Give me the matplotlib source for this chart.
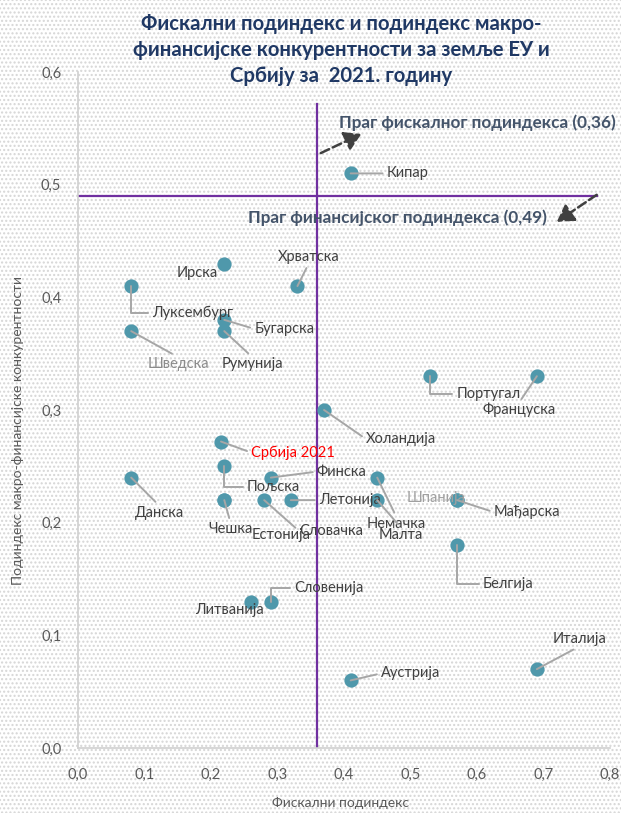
import matplotlib.pyplot as plt
from matplotlib.patches import Rectangle

# Подаци (фискални подиндекс, подиндекс макро-финансијске конкурентности)
countries = ['Кипар', 'Ирска', 'Хрватска', 'Луксембург', 'Шведска', 'Бугарска',
             'Румунија', 'Португал', 'Француска', 'Холандија', 'Србија 2021',
             'Финска', 'Пољска', 'Данска', 'Летонија', 'Чешка', 'Естонија',
             'Словачка', 'Шпанија', 'Мађарска', 'Немачка', 'Малта', 'Белгија',
             'Словенија', 'Литванија', 'Аустрија', 'Италија']
fiscal = [0.41, 0.22, 0.33, 0.08, 0.08, 0.22, 0.22, 0.53, 0.69, 0.37, 0.215,
          0.29, 0.22, 0.08, 0.32, 0.22, 0.22, 0.28, 0.57, 0.57, 0.45, 0.45,
          0.57, 0.29, 0.26, 0.41, 0.69]
financial = [0.51, 0.43, 0.41, 0.41, 0.37, 0.38, 0.37, 0.33, 0.33, 0.30, 0.272,
             0.24, 0.25, 0.24, 0.22, 0.22, 0.22, 0.22, 0.22, 0.22, 0.24, 0.22,
             0.18, 0.13, 0.13, 0.06, 0.07]
fiscal_threshold = 0.36
financial_threshold = 0.49

# положај етикета: (dx, dy у пикселима, relpos, тип линије)
label_pos = {
    'Кипар': (57, 0, (0, 0.5), 's'),
    'Ирска': (-27, -9, None, None),
    'Хрватска': (11, 29, (0.5, 0), 's'),
    'Луксембург': (61, -27, (0, 0.5), 'a'),
    'Шведска': (47, -33, (0.5, 1), 's'),
    'Бугарска': (60, -9, (0, 0.5), 's'),
    'Румунија': (28, -33, (0.5, 1), 's'),
    'Португал': (58, -18, (0, 0.5), 'a'),
    'Француска': (-18, -34, (0.5, 1), 's'),
    'Холандија': (77, -29, (0, 0.5), 's'),
    'Србија 2021': (72, -11, (0, 0.5), 's'),
    'Финска': (71, 6, (0, 0.5), 's'),
    'Пољска': (49, -21, (0, 0.5), 'a'),
    'Данска': (28, -35, (0.5, 1), 's'),
    'Летонија': (59, 0, (0, 0.5), 's'),
    'Чешка': (6, -29, (0.5, 1), 's'),
    'Естонија': (57, -35, None, None),
    'Словачка': (67, -31, (0, 0.5), 's'),
    'Шпанија': (-21, 2, None, None),
    'Мађарска': (70, -12, (0, 0.5), 's'),
    'Немачка': (19, -46, (0.5, 1), 's'),
    'Малта': (24, -35, (0.5, 1), 's'),
    'Белгија': (51, -39, (0, 0.5), 'a'),
    'Словенија': (58, 14, (0, 0.5), 'a'),
    'Литванија': (-21, -8, None, None),
    'Аустрија': (60, 7, (0, 0.5), 's'),
    'Италија': (43, 30, (0.5, 0), 's'),
}
label_colors = {'Шведска': '#8c8c8c', 'Шпанија': '#a0a0a0', 'Србија 2021': '#ff0000'}

plt.rcParams['font.family'] = ['Lato', 'DejaVu Sans']

fig = plt.figure(figsize=(6.21, 8.13), dpi=100)
fig.patches.append(Rectangle((0, 0), 1, 1, transform=fig.transFigure, facecolor='white',
                             edgecolor='#d6d6d6', hatch='....', linewidth=0, zorder=-10))
ax = fig.add_axes([78 / 621, 1 - 748 / 813, (610 - 78) / 621, (748 - 72) / 813])
ax.patch.set_alpha(0)

ax.set_xlim(0, 0.8)
ax.set_ylim(0, 0.6)
ax.set_xticks([i / 10 for i in range(9)])
ax.set_yticks([i / 10 for i in range(7)])
fmt = lambda v: f'{v:.1f}'.replace('.', ',')
ax.set_xticklabels([fmt(i / 10) for i in range(9)])
ax.set_yticklabels([fmt(i / 10) for i in range(7)])
ax.tick_params(length=0, labelsize=10.5, colors='#595959')
ax.tick_params(axis='x', pad=14)
ax.tick_params(axis='y', pad=12)
for s in ['top', 'right']:
    ax.spines[s].set_visible(False)
for s in ['left', 'bottom']:
    ax.spines[s].set_color('#d0d0d0')
    ax.spines[s].set_linewidth(1.2)

# прагови
ax.plot([fiscal_threshold, fiscal_threshold], [0, 0.572], color='#7030a0', lw=1.6, zorder=2)
ax.plot([0, 0.78], [financial_threshold, financial_threshold], color='#7030a0', lw=1.6, zorder=2)

ax.scatter(fiscal, financial, s=105, color='#4f98ab', zorder=3, linewidths=0)

for name, x, y in zip(countries, fiscal, financial):
    dx, dy, rp, kind = label_pos[name]
    props = None
    if kind is not None:
        props = dict(arrowstyle='-', color='#a6a6a6', lw=1.4, shrinkA=1, shrinkB=0,
                     relpos=rp,
                     connectionstyle='angle,angleA=0,angleB=90,rad=0' if kind == 'a' else 'arc3')
    ax.annotate(name, (x, y), xytext=(dx, dy), textcoords='offset pixels',
                ha='center', va='center', fontsize=10.5,
                color=label_colors.get(name, '#404040'), arrowprops=props, zorder=4)

ax.text(0.600, 0.555, 'Праг фискалног подиндекса (0,36)', ha='center', va='center',
        fontsize=12.3, fontweight='bold', color='#44546a')
ax.text(0.481, 0.471, 'Праг финансијског подиндекса (0,49)', ha='center', va='center',
        fontsize=12.3, fontweight='bold', color='#44546a')
arrow_style = '-|>,head_length=1.0,head_width=0.6'
ax.annotate('', xy=(0.426, 0.545), xytext=(0.365, 0.528),
            arrowprops=dict(arrowstyle=arrow_style, color='#404040',
                            lw=1.8, linestyle='--', shrinkA=0, shrinkB=0))
ax.annotate('', xy=(0.720, 0.467), xytext=(0.780, 0.491),
            arrowprops=dict(arrowstyle=arrow_style, color='#404040',
                            lw=1.8, linestyle='--', shrinkA=0, shrinkB=0))

fig.text(341 / 621, 1 - 50 / 813,
         'Фискални подиндекс и подиндекс макро-\nфинансијске конкурентности за земље ЕУ и\nСрбију за  2021. годину',
         ha='center', va='center', fontsize=14.6, fontweight='bold', color='#1f3864',
         linespacing=1.4)
fig.text(341 / 621, 1 - 803 / 813, 'Фискални подиндекс', ha='center', va='center',
         fontsize=10, color='#595959')
fig.text(18 / 621, 1 - 430 / 813, 'Подиндекс макро-финансијске конкурентности',
         ha='center', va='center', rotation=90, fontsize=10, color='#595959')

fig.savefig('out.png', dpi=100)
